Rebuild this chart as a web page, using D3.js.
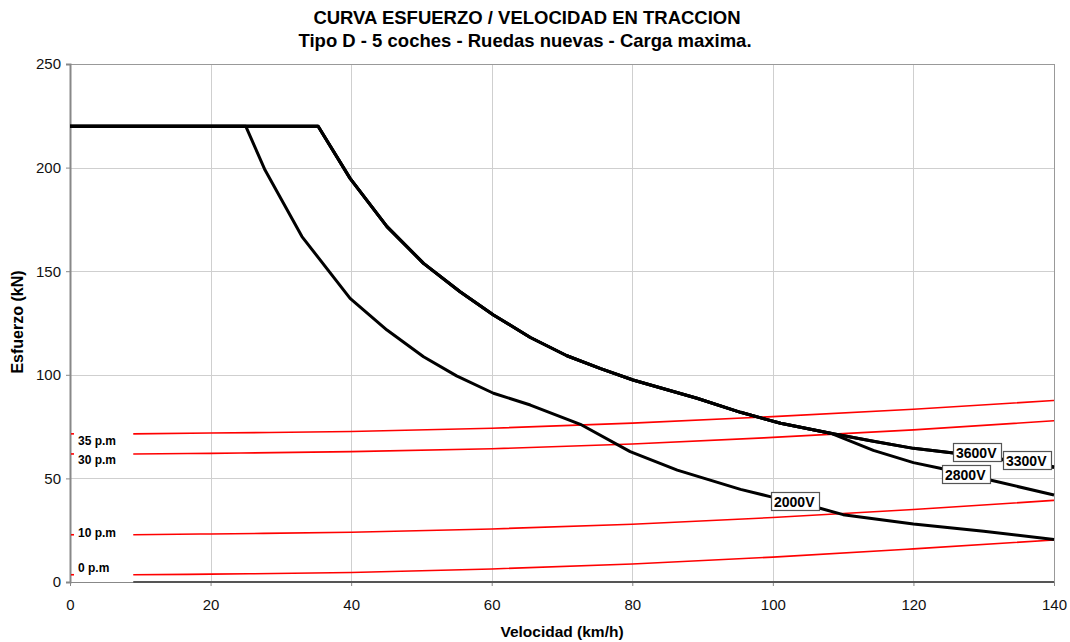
<!DOCTYPE html>
<html>
<head>
  <meta charset="utf-8">
  <script src="https://d3js.org/d3.v7.min.js"></script>
</head>
<style>
body { margin: 0; background: #fff; }
svg { font-family: "Liberation Sans", Arial, sans-serif; }
.grid line { stroke: #cfcfcf; stroke-width: 1; }
.axis text { font-size: 15px; fill: #111; }
.axis path, .axis line { stroke: #888; }
</style>
<body>
  <svg id="chart"></svg>
</body>
<script>
  // traction curves (km/h -> kN)
  var speed2000 = [0, 25, 27.75, 33, 39.85, 45.1, 50.3, 55, 60.25, 65.5, 72.8, 79.7, 86.4, 95.4, 99.6, 106.7, 110, 120, 130, 140];
  var force2000 = [220, 220, 198.8, 166.7, 136.9, 121.6, 108.7, 99.5, 91.1, 85.4, 75.8, 62.9, 54, 44.7, 41.2, 35.6, 32.5, 28, 24.5, 20.5];

  var speedHigh = [0, 35.3, 39.85, 45.1, 50.3, 55.5, 60.25, 65.5, 70.7, 75.5, 80.1, 89.2, 95.4, 101.1, 108.2, 114.3, 120, 125.7, 132, 140];
  var force3600 = [220, 220, 194.8, 171.5, 153.8, 140.1, 128.9, 118, 109.2, 103, 97.5, 88.7, 81.9, 76.6, 71.8, 67.9, 64.5, 62.3, 59.6, 55.6];
  var force3300 = [220, 220, 194.8, 171.5, 153.8, 140.1, 128.9, 118, 109.2, 103, 97.5, 88.7, 81.9, 76.6, 71.8, 67.9, 64.5, 62.3, 59.3, 55.2];

  var speed2800 = [0, 35.3, 39.85, 45.1, 50.3, 55.5, 60.25, 65.5, 70.7, 75.5, 80.1, 89.2, 95.4, 101.1, 108.2, 114.3, 120, 123.8, 130.9, 140];
  var force2800 = [220, 220, 194.8, 171.5, 153.8, 140.1, 128.9, 118, 109.2, 103, 97.5, 88.7, 81.9, 76.6, 71.8, 63.5, 57.6, 54.9, 49.2, 42];

  // resistance curves
  var speedRes = [9, 20, 40, 60, 80, 100, 120, 140];
  var res35 = [71.5, 71.9, 72.6, 74.2, 76.7, 79.8, 83.4, 87.6];
  var res30 = [61.8, 62.1, 62.9, 64.3, 66.6, 69.8, 73.4, 77.8];
  var res10 = [22.8, 23.2, 24.0, 25.6, 27.9, 31.1, 35.0, 39.4];
  var res0 = [3.5, 3.8, 4.6, 6.3, 8.7, 12.0, 16.0, 20.3];
  var resNames = ["35 p.m", "30 p.m", "10 p.m", "0 p.m"];

  var xTicks = [0, 20, 40, 60, 80, 100, 120, 140];
  var yTicks = [0, 50, 100, 150, 200, 250];

  var w = 1070, h = 642;
  var margin = {top: 64, right: 16, bottom: 60, left: 70};
  var iw = w - margin.left - margin.right;
  var ih = h - margin.top - margin.bottom;

  var svg = d3.select("#chart").attr("width", w).attr("height", h);

  svg.append("text").attr("x", 527).attr("y", 24).attr("text-anchor", "middle")
    .style("font-size", "18.5px").style("font-weight", "bold")
    .text("CURVA ESFUERZO / VELOCIDAD EN TRACCION");
  svg.append("text").attr("x", 525).attr("y", 47).attr("text-anchor", "middle")
    .style("font-size", "18.5px").style("font-weight", "bold")
    .text("Tipo D - 5 coches - Ruedas nuevas - Carga maxima.");

  var g = svg.append("g").attr("transform", "translate(" + margin.left + "," + margin.top + ")");

  var x = d3.scaleLinear().domain([0, 140]).range([0, iw]);
  var y = d3.scaleLinear().domain([0, 250]).range([ih, 0]);

  // gridlines
  g.append("g").attr("class", "grid")
    .selectAll("line.v").data(xTicks).enter().append("line")
    .attr("x1", d => Math.round(x(d)) + 0.5).attr("x2", d => Math.round(x(d)) + 0.5)
    .attr("y1", 0).attr("y2", ih);
  g.append("g").attr("class", "grid")
    .selectAll("line.h").data(yTicks).enter().append("line")
    .attr("y1", d => Math.round(y(d)) + 0.5).attr("y2", d => Math.round(y(d)) + 0.5)
    .attr("x1", 0).attr("x2", iw);

  g.append("rect").attr("x", 0.5).attr("y", 0.5).attr("width", iw).attr("height", ih)
    .attr("fill", "none").attr("stroke", "#999");

  // axes
  var xAxis = g.append("g").attr("class", "axis").attr("transform", "translate(0," + ih + ")")
    .call(d3.axisBottom(x).tickValues(xTicks).tickSize(4).tickPadding(13));
  var yAxis = g.append("g").attr("class", "axis")
    .call(d3.axisLeft(y).tickValues(yTicks).tickSize(4).tickPadding(5));
  yAxis.select(".domain").attr("stroke-width", 2).attr("stroke", "#999");
  xAxis.select(".domain").attr("stroke", "#999");

  svg.append("text").attr("x", 562).attr("y", 637).attr("text-anchor", "middle")
    .style("font-size", "15.5px").style("font-weight", "bold").text("Velocidad (km/h)");
  svg.append("text").attr("transform", "translate(23,322) rotate(-90)").attr("text-anchor", "middle")
    .style("font-size", "16px").style("font-weight", "bold").text("Esfuerzo (kN)");

  // baseline series along zero
  g.append("line").attr("x1", x(9)).attr("x2", x(140)).attr("y1", y(0)).attr("y2", y(0))
    .attr("stroke", "#555").attr("stroke-width", 2);

  // resistance curves
  var resLine = d3.line().curve(d3.curveMonotoneX)
    .x((d, i) => x(speedRes[i])).y(d => y(d));
  var resSets = [res35, res30, res10, res0];
  var resOffset = [11, 10, 2, -3];
  g.selectAll("path.res").data(resSets).enter().append("path")
    .attr("d", resLine).attr("fill", "none").attr("stroke", "#ff0000").attr("stroke-width", 1.6);
  g.selectAll("line.rtick").data(resSets).enter().append("line")
    .attr("x1", 1).attr("x2", 4).attr("y1", d => y(d[0])).attr("y2", d => y(d[0]))
    .attr("stroke", "#ff0000").attr("stroke-width", 1.6);
  g.selectAll("text.rlab").data(resSets).enter().append("text")
    .attr("x", 8).attr("y", (d, i) => y(d[0]) + resOffset[i])
    .style("font-size", "12px").style("font-weight", "bold").text((d, i) => resNames[i]);

  // traction curves
  var tLine = d3.line().x(d => x(d[0])).y(d => y(d[1]));
  var curves = [
    d3.zip(speed2000, force2000),
    d3.zip(speed2800, force2800),
    d3.zip(speedHigh, force3300),
    d3.zip(speedHigh, force3600)
  ];
  g.selectAll("path.trac").data(curves).enter().append("path")
    .attr("d", tLine).attr("fill", "none").attr("stroke", "#000").attr("stroke-width", 3)
    .attr("stroke-linejoin", "round");

  // voltage labels (anchored in data units, top-left)
  var voltLabels = [
    {t: "2000V", s: 99.8, f: 43.4},
    {t: "2800V", s: 124.0, f: 56.5},
    {t: "3600V", s: 125.7, f: 67.1},
    {t: "3300V", s: 132.8, f: 63.2}
  ];
  var lab = g.selectAll("g.vlab").data(voltLabels).enter().append("g")
    .attr("transform", d => "translate(" + Math.round(x(d.s)) + "," + Math.round(y(d.f)) + ")");
  lab.append("rect").attr("x", 0.5).attr("y", 0.5).attr("width", 48).attr("height", 18)
    .attr("fill", "#fff").attr("stroke", "#555").attr("stroke-width", 1.2);
  lab.append("text").attr("x", 3).attr("y", 14.5).style("font-size", "14px").style("font-weight", "bold")
    .text(d => d.t);
</script>
</html>
